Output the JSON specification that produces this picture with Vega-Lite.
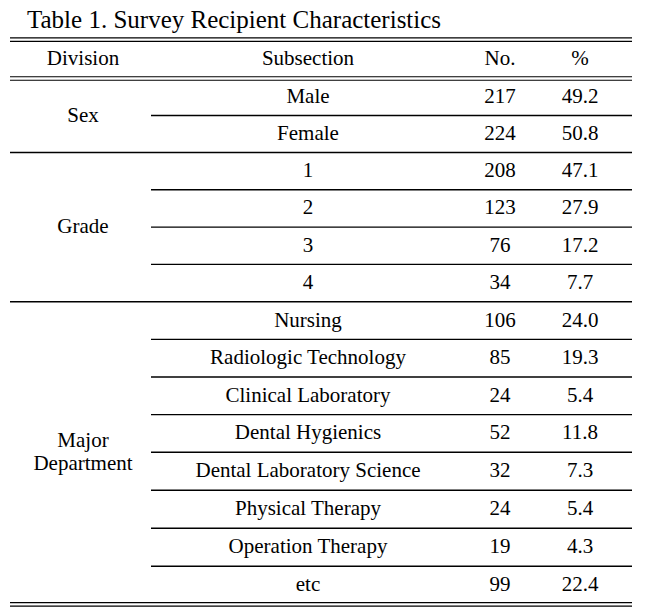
{
  "$schema": "https://vega.github.io/schema/vega-lite/v6.json",
  "width": 645,
  "height": 615,
  "autosize": "none",
  "padding": 0,
  "background": "white",
  "config": {
    "font": "Liberation Serif",
    "view": {"stroke": null},
    "text": {"font": "Liberation Serif", "fontSize": 21, "color": "black"},
    "rule": {"color": "black", "strokeWidth": 1.4}
  },
  "datasets": {
    "rows": [
      {"division": "Sex", "subsection": "Male", "no": 217, "pct": 49.2, "row": 1},
      {"division": "Sex", "subsection": "Female", "no": 224, "pct": 50.8, "row": 2},
      {"division": "Grade", "subsection": "1", "no": 208, "pct": 47.1, "row": 3},
      {"division": "Grade", "subsection": "2", "no": 123, "pct": 27.9, "row": 4},
      {"division": "Grade", "subsection": "3", "no": 76, "pct": 17.2, "row": 5},
      {"division": "Grade", "subsection": "4", "no": 34, "pct": 7.7, "row": 6},
      {"division": "Major Department", "subsection": "Nursing", "no": 106, "pct": 24.0, "row": 7},
      {"division": "Major Department", "subsection": "Radiologic Technology", "no": 85, "pct": 19.3, "row": 8},
      {"division": "Major Department", "subsection": "Clinical Laboratory", "no": 24, "pct": 5.4, "row": 9},
      {"division": "Major Department", "subsection": "Dental Hygienics", "no": 52, "pct": 11.8, "row": 10},
      {"division": "Major Department", "subsection": "Dental Laboratory Science", "no": 32, "pct": 7.3, "row": 11},
      {"division": "Major Department", "subsection": "Physical Therapy", "no": 24, "pct": 5.4, "row": 12},
      {"division": "Major Department", "subsection": "Operation Therapy", "no": 19, "pct": 4.3, "row": 13},
      {"division": "Major Department", "subsection": "etc", "no": 99, "pct": 22.4, "row": 14}
    ],
    "header": [
      {"col": 1, "label": "Division"},
      {"col": 2, "label": "Subsection"},
      {"col": 3, "label": "No."},
      {"col": 4, "label": "%"}
    ],
    "rules": [
      {"edge": -0.5, "start": 0.5, "end": 4.5, "double": true},
      {"edge": 0.5, "start": 0.5, "end": 4.5, "double": true},
      {"edge": 1.5, "start": 1.5, "end": 4.5, "double": false},
      {"edge": 2.5, "start": 0.5, "end": 4.5, "double": false},
      {"edge": 3.5, "start": 1.5, "end": 4.5, "double": false},
      {"edge": 4.5, "start": 1.5, "end": 4.5, "double": false},
      {"edge": 5.5, "start": 1.5, "end": 4.5, "double": false},
      {"edge": 6.5, "start": 0.5, "end": 4.5, "double": false},
      {"edge": 7.5, "start": 1.5, "end": 4.5, "double": false},
      {"edge": 8.5, "start": 1.5, "end": 4.5, "double": false},
      {"edge": 9.5, "start": 1.5, "end": 4.5, "double": false},
      {"edge": 10.5, "start": 1.5, "end": 4.5, "double": false},
      {"edge": 11.5, "start": 1.5, "end": 4.5, "double": false},
      {"edge": 12.5, "start": 1.5, "end": 4.5, "double": false},
      {"edge": 13.5, "start": 1.5, "end": 4.5, "double": false},
      {"edge": 14.5, "start": 0.5, "end": 4.5, "double": true}
    ],
    "title": [{"text": "Table 1. Survey Recipient Characteristics"}]
  },
  "layer": [
    {
      "data": {"name": "rules"},
      "transform": [{"filter": "!datum.double"}],
      "mark": {"type": "rule"},
      "encoding": {
        "x": {"field": "start", "type": "quantitative", "axis": null,
              "scale": {"domain": [0, 0.5, 1, 1.5, 2, 3, 4, 4.5, 5], "range": [0, 10, 83, 151, 308, 500, 580, 632, 645], "nice": false, "zero": false}},
        "x2": {"field": "end"},
        "y": {"field": "edge", "type": "quantitative", "axis": null,
              "scale": {"domain": [-1.523, -0.5, 0.5, 2.5, 6.5, 10.5, 14.5, 14.78], "range": [0, 39.7, 78.5, 152.5, 301.7, 452.3, 604.3, 615], "nice": false, "zero": false}}
      }
    },
    {
      "data": {"name": "rules"},
      "transform": [{"filter": "datum.double"}],
      "mark": {"type": "rule", "yOffset": -1.75, "strokeWidth": 1.2},
      "encoding": {
        "x": {"field": "start", "type": "quantitative", "axis": null},
        "x2": {"field": "end"},
        "y": {"field": "edge", "type": "quantitative", "axis": null}
      }
    },
    {
      "data": {"name": "rules"},
      "transform": [{"filter": "datum.double"}],
      "mark": {"type": "rule", "yOffset": 1.75, "strokeWidth": 1.2},
      "encoding": {
        "x": {"field": "start", "type": "quantitative", "axis": null},
        "x2": {"field": "end"},
        "y": {"field": "edge", "type": "quantitative", "axis": null}
      }
    },
    {
      "data": {"name": "title"},
      "mark": {"type": "text", "align": "left", "baseline": "middle", "font": "Liberation Serif", "fontSize": 25, "dx": 17},
      "encoding": {
        "x": {"datum": 0.5, "type": "quantitative"},
        "y": {"datum": -1, "type": "quantitative"},
        "text": {"field": "text"}
      }
    },
    {
      "data": {"name": "header"},
      "mark": {"type": "text", "align": "center", "baseline": "middle", "font": "Liberation Serif", "fontSize": 21},
      "encoding": {
        "x": {"field": "col", "type": "quantitative"},
        "y": {"datum": 0, "type": "quantitative"},
        "text": {"field": "label"}
      }
    },
    {
      "data": {"name": "rows"},
      "transform": [
        {"aggregate": [{"op": "mean", "field": "row", "as": "mid"}], "groupby": ["division"]},
        {"filter": {"field": "division", "oneOf": ["Sex", "Grade"]}}
      ],
      "mark": {"type": "text", "align": "center", "baseline": "middle", "font": "Liberation Serif", "fontSize": 21},
      "encoding": {
        "x": {"datum": 1, "type": "quantitative"},
        "y": {"field": "mid", "type": "quantitative"},
        "text": {"field": "division"}
      }
    },
    {
      "data": {"name": "rows"},
      "transform": [
        {"aggregate": [{"op": "mean", "field": "row", "as": "mid"}], "groupby": ["division"]},
        {"filter": {"field": "division", "equal": "Major Department"}}
      ],
      "mark": {"type": "text", "align": "center", "baseline": "middle", "font": "Liberation Serif", "fontSize": 21, "lineBreak": " ", "lineHeight": 23, "dy": -11.5},
      "encoding": {
        "x": {"datum": 1, "type": "quantitative"},
        "y": {"field": "mid", "type": "quantitative"},
        "text": {"field": "division"}
      }
    },
    {
      "data": {"name": "rows"},
      "mark": {"type": "text", "align": "center", "baseline": "middle", "font": "Liberation Serif", "fontSize": 21},
      "encoding": {
        "x": {"datum": 2, "type": "quantitative"},
        "y": {"field": "row", "type": "quantitative"},
        "text": {"field": "subsection"}
      }
    },
    {
      "data": {"name": "rows"},
      "mark": {"type": "text", "align": "center", "baseline": "middle", "font": "Liberation Serif", "fontSize": 21},
      "encoding": {
        "x": {"datum": 3, "type": "quantitative"},
        "y": {"field": "row", "type": "quantitative"},
        "text": {"field": "no", "type": "quantitative", "format": "d"}
      }
    },
    {
      "data": {"name": "rows"},
      "mark": {"type": "text", "align": "center", "baseline": "middle", "font": "Liberation Serif", "fontSize": 21},
      "encoding": {
        "x": {"datum": 4, "type": "quantitative"},
        "y": {"field": "row", "type": "quantitative"},
        "text": {"field": "pct", "type": "quantitative", "format": ".1f"}
      }
    }
  ]
}
